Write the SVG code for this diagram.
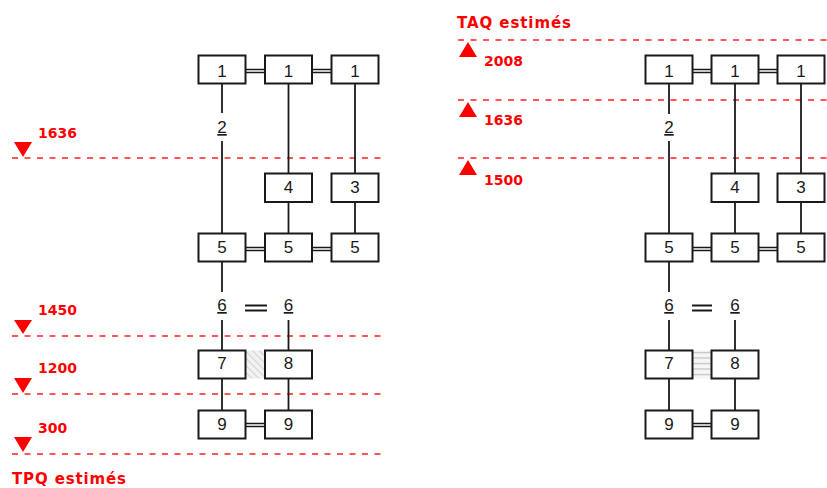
<svg xmlns="http://www.w3.org/2000/svg" width="827" height="488" viewBox="0 0 827 488">
<style>
.box{fill:#fff;stroke:#1a1a1a;stroke-width:2}
.num{font-family:"Liberation Sans",Arial,sans-serif;font-size:17px;fill:#1a1a1a;text-anchor:middle}
.u{text-decoration:underline}
.ln{stroke:#1a1a1a;stroke-width:1.8;fill:none}
.dbl{stroke:#1a1a1a;stroke-width:1.4;fill:none}
.eq{stroke:#1a1a1a;stroke-width:2.2;fill:none}
.dash{stroke:#ff2020;stroke-width:1.3;stroke-dasharray:6 6.5;fill:none}
.tri{fill:#ff0000}
.lbl{font-family:"DejaVu Sans",Verdana,sans-serif;font-weight:bold;font-size:14px;fill:#ff0000}
.big{font-size:15px}
</style>
<defs>
<pattern id="diag" width="5" height="5" patternUnits="userSpaceOnUse" patternTransform="rotate(-45)">
<rect width="5" height="5" fill="#f1f1f1"/>
<line x1="0" y1="0" x2="0" y2="5" stroke="#b8b8b8" stroke-width="1.2"/>
</pattern>
<pattern id="horiz" width="5" height="5.5" patternUnits="userSpaceOnUse" y="350">
<rect width="5" height="5.5" fill="#f6f6f6"/>
<line x1="0" y1="2.5" x2="5" y2="2.5" stroke="#c0c0c0" stroke-width="1.2"/>
</pattern>
</defs>

<!-- Time markers -->
<g id="markers">
<line class="dash" x1="12" y1="158" x2="381" y2="158"/>
<line class="dash" x1="12" y1="336" x2="381" y2="336"/>
<line class="dash" x1="12" y1="394" x2="381" y2="394"/>
<line class="dash" x1="12" y1="454" x2="381" y2="454"/>
<polygon class="tri" points="14,142 32,142 23,157"/>
<polygon class="tri" points="14,320 32,320 23,334"/>
<polygon class="tri" points="14,378 32,378 23,393"/>
<polygon class="tri" points="14,437 32,437 23,452"/>
<text class="lbl" x="38" y="138">1636</text>
<text class="lbl" x="38" y="315">1450</text>
<text class="lbl" x="38" y="373">1200</text>
<text class="lbl" x="38" y="433">300</text>
<text class="lbl big" x="12" y="484" textLength="114" lengthAdjust="spacing">TPQ estimés</text>

<line class="dash" x1="458" y1="40" x2="827" y2="40"/>
<line class="dash" x1="458" y1="100" x2="827" y2="100"/>
<line class="dash" x1="458" y1="158" x2="827" y2="158"/>
<polygon class="tri" points="468,42 459,57 477,57"/>
<polygon class="tri" points="468,102 459,117 477,117"/>
<polygon class="tri" points="468,160 459,175 477,175"/>
<text class="lbl big" x="457" y="28" textLength="114" lengthAdjust="spacing">TAQ estimés</text>
<text class="lbl" x="484" y="66">2008</text>
<text class="lbl" x="484" y="125">1636</text>
<text class="lbl" x="484" y="185">1500</text>
</g>

<!-- Connectors -->
<g id="connectors">
<!-- left -->
<line class="ln" x1="222" y1="83" x2="222" y2="113"/>
<line class="ln" x1="222" y1="141" x2="222" y2="233"/>
<line class="ln" x1="288.5" y1="83" x2="288.5" y2="173"/>
<line class="ln" x1="288.5" y1="202" x2="288.5" y2="233"/>
<line class="ln" x1="355" y1="83" x2="355" y2="173"/>
<line class="ln" x1="355" y1="202" x2="355" y2="233"/>
<line class="ln" x1="222" y1="261" x2="222" y2="292"/>
<line class="ln" x1="222" y1="320" x2="222" y2="350"/>
<line class="ln" x1="288.5" y1="320" x2="288.5" y2="350"/>
<line class="ln" x1="222" y1="378" x2="222" y2="410"/>
<line class="ln" x1="288.5" y1="378" x2="288.5" y2="410"/>
<path class="dbl" d="M245.5 69.5H265M245.5 72.5H265M312 69.5H331.5M312 72.5H331.5"/>
<path class="dbl" d="M245.5 247.5H265M245.5 250.5H265M312 247.5H331.5M312 250.5H331.5"/>
<path class="dbl" d="M245.5 423.5H265M245.5 426.5H265"/>
<path class="eq" d="M245 305.5H267M245 310.5H267"/>
<!-- right -->
<line class="ln" x1="669" y1="83" x2="669" y2="114"/>
<line class="ln" x1="669" y1="141" x2="669" y2="233"/>
<line class="ln" x1="735" y1="83" x2="735" y2="173"/>
<line class="ln" x1="735" y1="202" x2="735" y2="233"/>
<line class="ln" x1="801" y1="83" x2="801" y2="173"/>
<line class="ln" x1="801" y1="202" x2="801" y2="233"/>
<line class="ln" x1="669" y1="261" x2="669" y2="292"/>
<line class="ln" x1="669" y1="320" x2="669" y2="350"/>
<line class="ln" x1="735" y1="320" x2="735" y2="350"/>
<line class="ln" x1="669" y1="378" x2="669" y2="410"/>
<line class="ln" x1="735" y1="378" x2="735" y2="410"/>
<path class="dbl" d="M692.5 69.5H711.5M692.5 72.5H711.5M758.5 69.5H777.5M758.5 72.5H777.5"/>
<path class="dbl" d="M692.5 247.5H711.5M692.5 250.5H711.5M758.5 247.5H777.5M758.5 250.5H777.5"/>
<path class="dbl" d="M692.5 423.5H711.5M692.5 426.5H711.5"/>
<path class="eq" d="M692 305.5H712M692 310.5H712"/>
</g>

<!-- Left diagram nodes -->
<g id="L1a"><rect class="box" x="198.5" y="55.5" width="47" height="28"/><text class="num" x="222" y="77">1</text></g>
<g id="L1b"><rect class="box" x="265" y="55.5" width="47" height="28"/><text class="num" x="288.5" y="77">1</text></g>
<g id="L1c"><rect class="box" x="331.5" y="55.5" width="47" height="28"/><text class="num" x="355" y="77">1</text></g>
<g id="L2"><text class="num u" x="222" y="133">2</text></g>
<g id="L4"><rect class="box" x="265" y="173.5" width="47" height="28.5"/><text class="num" x="288.5" y="193">4</text></g>
<g id="L3"><rect class="box" x="331.5" y="173.5" width="47" height="28.5"/><text class="num" x="355" y="193">3</text></g>
<g id="L5a"><rect class="box" x="198.5" y="233.5" width="47" height="28"/><text class="num" x="222" y="253">5</text></g>
<g id="L5b"><rect class="box" x="265" y="233.5" width="47" height="28"/><text class="num" x="288.5" y="253">5</text></g>
<g id="L5c"><rect class="box" x="331.5" y="233.5" width="47" height="28"/><text class="num" x="355" y="253">5</text></g>
<g id="L6a"><text class="num u" x="222" y="311">6</text></g>
<g id="L6b"><text class="num u" x="288.5" y="311">6</text></g>
<g id="Lhatch"><rect x="245.5" y="350.5" width="19.5" height="28" fill="url(#diag)"/></g>
<g id="L7"><rect class="box" x="198.5" y="350.5" width="47" height="28"/><text class="num" x="222" y="369">7</text></g>
<g id="L8"><rect class="box" x="265" y="350.5" width="47" height="28"/><text class="num" x="288.5" y="369">8</text></g>
<g id="L9a"><rect class="box" x="198.5" y="410.5" width="47" height="28"/><text class="num" x="222" y="430">9</text></g>
<g id="L9b"><rect class="box" x="265" y="410.5" width="47" height="28"/><text class="num" x="288.5" y="430">9</text></g>

<!-- Right diagram nodes -->
<g id="R1a"><rect class="box" x="645.5" y="55.5" width="47" height="28"/><text class="num" x="669" y="77">1</text></g>
<g id="R1b"><rect class="box" x="711.5" y="55.5" width="47" height="28"/><text class="num" x="735" y="77">1</text></g>
<g id="R1c"><rect class="box" x="777.5" y="55.5" width="47" height="28"/><text class="num" x="801" y="77">1</text></g>
<g id="R2"><text class="num u" x="669" y="133">2</text></g>
<g id="R4"><rect class="box" x="711.5" y="173.5" width="47" height="28.5"/><text class="num" x="735" y="193">4</text></g>
<g id="R3"><rect class="box" x="777.5" y="173.5" width="47" height="28.5"/><text class="num" x="801" y="193">3</text></g>
<g id="R5a"><rect class="box" x="645.5" y="233.5" width="47" height="28"/><text class="num" x="669" y="253">5</text></g>
<g id="R5b"><rect class="box" x="711.5" y="233.5" width="47" height="28"/><text class="num" x="735" y="253">5</text></g>
<g id="R5c"><rect class="box" x="777.5" y="233.5" width="47" height="28"/><text class="num" x="801" y="253">5</text></g>
<g id="R6a"><text class="num u" x="669" y="311">6</text></g>
<g id="R6b"><text class="num u" x="735" y="311">6</text></g>
<g id="Rhatch"><rect x="692.5" y="350.5" width="19" height="28" fill="url(#horiz)"/></g>
<g id="R7"><rect class="box" x="645.5" y="350.5" width="47" height="28"/><text class="num" x="669" y="369">7</text></g>
<g id="R8"><rect class="box" x="711.5" y="350.5" width="47" height="28"/><text class="num" x="735" y="369">8</text></g>
<g id="R9a"><rect class="box" x="645.5" y="410.5" width="47" height="28"/><text class="num" x="669" y="430">9</text></g>
<g id="R9b"><rect class="box" x="711.5" y="410.5" width="47" height="28"/><text class="num" x="735" y="430">9</text></g>
</svg>
